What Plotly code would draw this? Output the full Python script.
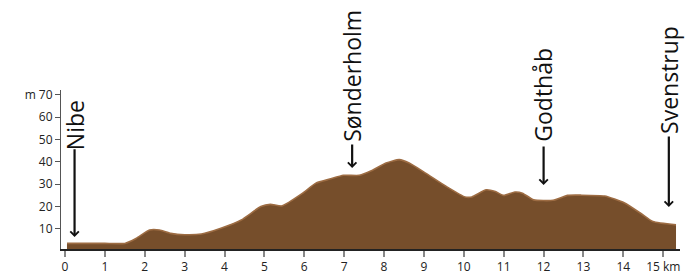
import plotly.graph_objects as go

# Elevation profile (distance in km, elevation in m)
km = [0.05, 0.5, 1.0, 1.5, 1.78, 2.12, 2.37, 2.65, 3.0, 3.42, 3.91, 4.42, 4.91, 5.15, 5.44,
      5.96, 6.29, 6.64, 6.98, 7.38, 7.68, 8.05, 8.38, 8.63, 9.04, 9.56, 10.03, 10.2, 10.56,
      10.79, 11.0, 11.28, 11.47, 11.75, 12.24, 12.6, 12.95, 13.53, 14.02, 14.45, 14.74, 15.32]
elev = [3.5, 3.5, 3.5, 3.5, 5.7, 9.5, 9.5, 8.0, 7.4, 7.7, 10.3, 14.0, 20.0, 21.0, 20.3,
        26.0, 30.5, 32.3, 34.0, 34.0, 36.0, 39.5, 41.0, 39.5, 35.0, 29.0, 24.3, 24.3, 27.5,
        26.7, 25.0, 26.5, 26.0, 23.0, 22.8, 25.0, 25.1, 24.7, 21.7, 16.8, 13.3, 11.8]

# Places along the route
places = ["Nibe", "Sønderholm", "Godthåb", "Svenstrup"]
place_km = [0.24, 7.2, 12.0, 15.14]

x_ticks = list(range(0, 16))
x_tick_text = [str(v) for v in x_ticks[:-1]] + ["15 km"]
y_ticks = [10, 20, 30, 40, 50, 60, 70]
y_tick_text = ["10", "20", "30", "40", "50", "60", "m 70"]

# layout helpers (label base / arrow span in metres)
text_base = [44.6, 48.6, 48.4, 52.0]
arrow_top = [46.3, 48.5, 47.6, 52.1]
arrow_tip = [6.4, 37.3, 29.7, 19.8]

FONT = "Open Sans"

fig = go.Figure()
fig.add_trace(go.Scatter(
    x=km, y=elev, mode="lines", fill="tozeroy",
    fillcolor="#764e2b",
    line=dict(color="#9d6c43", width=1.6, shape="spline", smoothing=0.5),
    hoverinfo="skip", showlegend=False,
))

for name, xk, tb, at, tip in zip(places, place_km, text_base, arrow_top, arrow_tip):
    fig.add_annotation(
        x=xk, y=tb, xref="x", yref="y", text=name, showarrow=False,
        textangle=-90, xanchor="center", yanchor="bottom",
        font=dict(family=FONT, size=23, color="#111111"),
        borderpad=0,
    )
    fig.add_annotation(
        x=xk, y=tip, ax=xk, ay=at, xref="x", yref="y", axref="x", ayref="y",
        text="", showarrow=True, arrowhead=4, arrowsize=0.75, arrowwidth=2.2,
        arrowcolor="#111111", standoff=0,
    )

fig.update_layout(
    width=690, height=278,
    margin=dict(l=61, r=10, t=90, b=29, autoexpand=False),
    paper_bgcolor="white", plot_bgcolor="white",
    font=dict(family=FONT, size=12, color="#222222"),
    xaxis=dict(
        range=[-0.1, 15.42], tickvals=x_ticks, ticktext=x_tick_text, automargin=False,
        showgrid=False, zeroline=False, showline=True, linecolor="#222222", linewidth=1.5,
        ticks="outside", ticklen=6, tickcolor="#888888", tickwidth=1.5,
        tickfont=dict(family=FONT, size=12, color="#222222"),
    ),
    yaxis=dict(
        range=[1.0, 72.2], tickvals=y_ticks, ticktext=y_tick_text, automargin=False,
        showgrid=False, zeroline=False, showline=True, linecolor="#555555", linewidth=1,
        ticks="outside", ticklen=5, tickcolor="#555555", tickwidth=1,
        tickfont=dict(family=FONT, size=12, color="#222222"),
    ),
)

fig.write_html(
    "out.html",
    config={"displayModeBar": False},
    post_script="document.body.style.margin='0';document.body.style.overflow='hidden';",
)
